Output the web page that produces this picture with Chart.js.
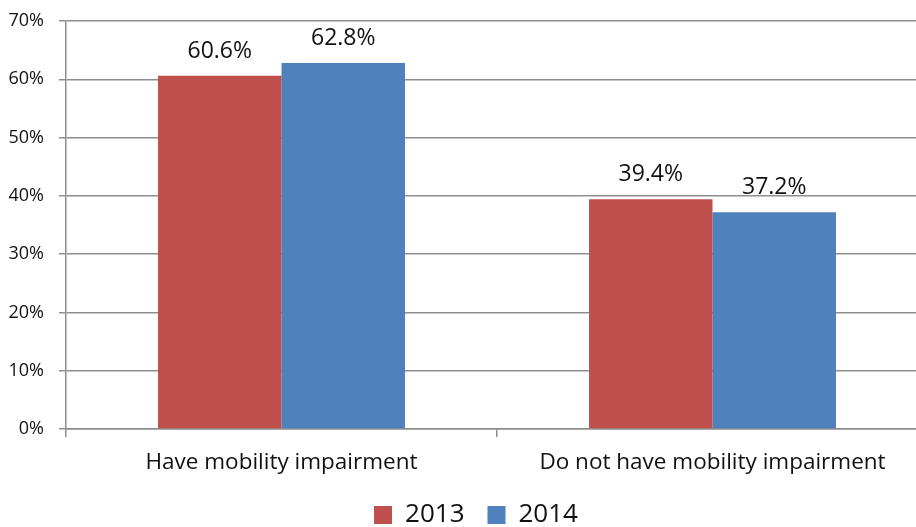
<!DOCTYPE html>
<html>
<head>
<meta charset="utf-8">
<script src="https://cdn.jsdelivr.net/npm/chart.js@4.4.1/dist/chart.umd.min.js"></script>
<style>
  html, body { margin: 0; padding: 0; background: #fff; overflow: hidden; }
  #wrap { width: 932px; height: 538px; }
</style>
</head>
<body>
<div id="wrap"><canvas id="chart"></canvas></div>
<script>
// chart data
const categories = ['Have mobility impairment', 'Do not have mobility impairment'];
const seriesNames = ['2013', '2014'];
const values2013 = [60.6, 39.4];
const values2014 = [62.8, 37.2];
const yTicks = [0, 10, 20, 30, 40, 50, 60, 70];

const FONT = '"Open Sans", "Liberation Sans", sans-serif';
const GRID = '#8e8e8e';

// draws the value above each bar
const barLabels = {
    id: 'barLabels',
    afterDatasetsDraw(chart) {
        const ctx = chart.ctx;
        ctx.save();
        ctx.font = '23px ' + FONT;
        ctx.fillStyle = '#111';
        ctx.textAlign = 'center';
        ctx.textBaseline = 'alphabetic';
        chart.data.datasets.forEach((ds, i) => {
            chart.getDatasetMeta(i).data.forEach((bar, j) => {
                ctx.fillText(ds.data[j].toFixed(1) + '%', bar.x, bar.y - 18);
            });
        });
        ctx.restore();
    }
};

// nudge the legend a little to the right
const legendShift = {
    id: 'legendShift',
    afterLayout(chart) {
        if (chart.legend) {
            chart.legend.left += 12;
            chart.legend.right += 12;
        }
    }
};

new Chart(document.getElementById('chart'), {
    type: 'bar',
    data: {
        labels: categories,
        datasets: [
            { label: seriesNames[0], data: values2013, backgroundColor: '#C0504D' },
            { label: seriesNames[1], data: values2014, backgroundColor: '#4F81BD' }
        ]
    },
    options: {
        responsive: true,
        maintainAspectRatio: false,
        animation: false,
        layout: { padding: { top: 21, right: 4, bottom: 0, left: 0 } },
        datasets: {
            bar: { categoryPercentage: 0.573, barPercentage: 1.0, borderWidth: 0 }
        },
        scales: {
            x: {
                afterFit(axis) { axis.height = 50; },
                grid: { display: true, drawOnChartArea: false, drawTicks: true, tickLength: 8, color: GRID, lineWidth: 1.5 },
                border: { display: true, color: GRID, width: 1.5 },
                ticks: { font: { family: FONT, size: 22.5 }, color: '#111', padding: 12 }
            },
            y: {
                min: 0,
                max: 70,
                afterBuildTicks(axis) {
                    axis.ticks = yTicks.map(v => ({ value: v }));
                },
                afterFit(axis) {
                    axis.width = 66;
                    axis.paddingTop = 0;
                    axis.paddingBottom = 0;
                },
                grid: { color: GRID, lineWidth: 1.5, tickLength: 7 },
                border: { display: true, color: GRID, width: 1.5 },
                ticks: {
                    font: { family: FONT, size: 18 },
                    color: '#111',
                    padding: 15,
                    callback: v => v + '%'
                }
            }
        },
        plugins: {
            legend: {
                position: 'bottom',
                labels: {
                    font: { family: FONT, size: 26 },
                    color: '#111',
                    boxWidth: 18,
                    boxHeight: 18,
                    padding: 23
                }
            },
            tooltip: { enabled: false },
            barLabels: {}
        }
    },
    plugins: [barLabels, legendShift]
});
</script>
</body>
</html>
